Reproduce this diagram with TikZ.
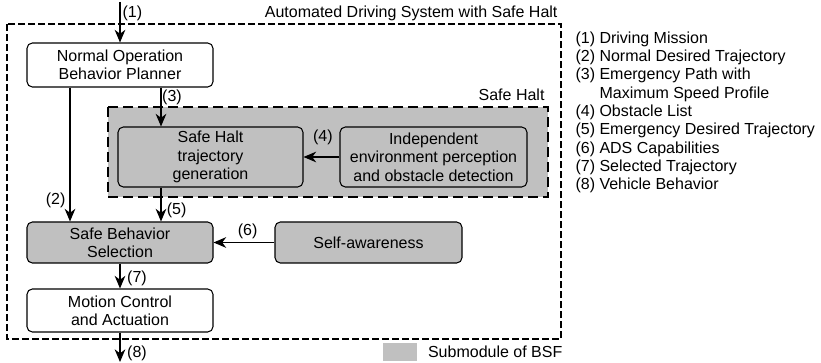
\documentclass[tikz,border=0pt]{standalone}
\usepackage{fontspec}
\setmainfont{Liberation Sans}
\usetikzlibrary{arrows.meta,calc,positioning}
\definecolor{subgray}{RGB}{192,192,192}

\begin{document}
\begin{tikzpicture}[x=0.75pt, y=0.75pt, line width=0.8pt,
  font=\fontsize{12}{13.75}\selectfont,
  block/.style={draw, rounded corners=4pt, align=center, inner sep=0pt},
  subblock/.style={block, fill=subgray},
  flow/.style={-{Stealth[length=9.5pt, width=8pt, inset=3pt]}},
  lbl/.style={inner sep=0pt}]
  \useasboundingbox (0, 0) rectangle (821, -363);

  \draw[dash pattern=on 5pt off 2.5pt] (7, -24) rectangle (561, -339);
  \node[lbl, anchor=east] at (558, -13) {Automated Driving System with Safe Halt};

  \draw[fill=subgray, line width=1.6pt, dash pattern=on 7.5pt off 3.75pt] (108, -107) rectangle (548, -197);
  \node[lbl, anchor=east] at (545, -95) {Safe Halt};

  \node[block, minimum width=139.5pt, minimum height=33pt] (normal) at (120, -65) {Normal Operation\\Behavior Planner};
  \node[subblock, minimum width=138.75pt, minimum height=45pt] (traj) at (210.5, -157) {Safe Halt\\trajectory\\generation};
  \node[subblock, minimum width=140.25pt, minimum height=45pt] (indep) at (433.5, -157) {Independent\\environment perception\\and obstacle detection};
  \node[subblock, minimum width=139.5pt, minimum height=30.75pt] (select) at (120, -242.5) {Safe Behavior\\Selection};
  \node[subblock, minimum width=140.25pt, minimum height=30.75pt] (selfaware) at (368.5, -242.5) {Self-awareness};
  \node[block, minimum width=139.5pt, minimum height=32.25pt] (motion) at (120, -310.5) {Motion Control\\and Actuation};

  \coordinate (mission) at (120, -2);
  \coordinate (vehicle) at (120, -362);
  \draw[flow] (mission) -- (normal) node[lbl, pos=0.27, right=1.5pt] {(1)};
  \draw[flow] ($(normal.south)+(-50, 0)$) -- ($(select.north)+(-50, 0)$) node[lbl, pos=0.84, left=3pt] {(2)};
  \draw[flow] ($(normal.south)+(41, 0)$) -- ($(traj.north)+(-49.5, 0)$) node[lbl, pos=0.24, right=0.5pt] {(3)};
  \draw[flow] (indep) -- (traj) node[lbl, pos=0.46, above=9pt] {(4)};
  \draw[flow] ($(traj.south)+(-49.5, 0)$) -- ($(select.north)+(41, 0)$) node[lbl, pos=0.66, right=4pt] {(5)};
  \draw[flow] (selfaware) -- (select) node[lbl, pos=0.44, above=2pt] {(6)};
  \draw[flow] (select) -- (motion) node[lbl, pos=0.58, right=5pt] {(7)};
  \draw[flow] (motion) -- (vehicle) node[lbl, pos=0.7, right=5pt] {(8)};

  \node[lbl, anchor=north west, align=left] (legend) at (575, -31) {(1) Driving Mission\\(2) Normal Desired Trajectory\\(3) Emergency Path with\\\phantom{(3) }Maximum Speed Profile\\(4) Obstacle List\\(5) Emergency Desired Trajectory\\(6) ADS Capabilities\\(7) Selected Trajectory\\(8) Vehicle Behavior};

  \node[fill=subgray, minimum width=25.5pt, minimum height=13.5pt, inner sep=0pt] (key) at (400, -352) {};
  \node[lbl, right=7.5pt of key] (keytext) {Submodule of BSF};
\end{tikzpicture}
\end{document}
